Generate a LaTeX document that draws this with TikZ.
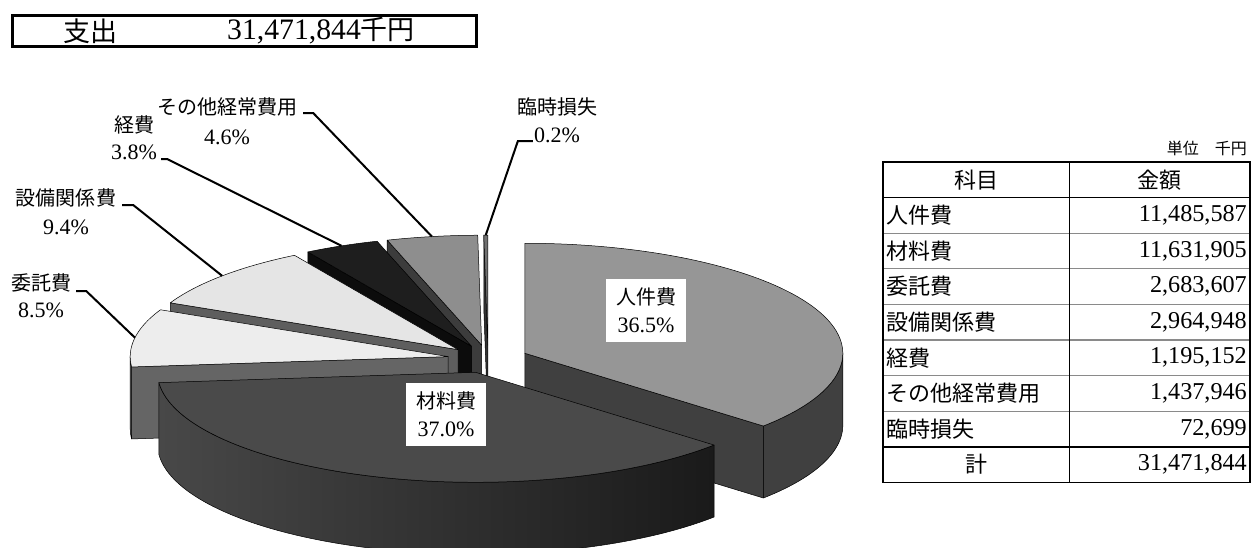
\documentclass[tikz,border=0pt]{standalone}
\usepackage{fontspec}
\setmainfont{Liberation Serif}[Scale=1.1]
\newfontfamily\jp{Noto Sans CJK JP}
\definecolor{topA}{HTML}{969696}\definecolor{sideA}{HTML}{404040}
\definecolor{topB}{HTML}{4A4A4A}\definecolor{wallBl}{HTML}{484848}\definecolor{wallBr}{HTML}{1A1A1A}
\definecolor{topC}{HTML}{EDEDED}\definecolor{sideC}{HTML}{656565}
\definecolor{topD}{HTML}{E5E5E5}\definecolor{sideD}{HTML}{5E5E5E}
\definecolor{topE}{HTML}{1E1E1E}\definecolor{sideE}{HTML}{0C0C0C}
\definecolor{topF}{HTML}{8E8E8E}\definecolor{sideF}{HTML}{3C3C3C}
\definecolor{topG}{HTML}{707070}\definecolor{sideG}{HTML}{333333}
\definecolor{rowline}{HTML}{8A8A8A}
\def\RA{318}\def\RB{110}\def\DP{72}\def\EX{0.127}\def\OX{488}\def\OY{359}
\newcommand\setc[2]{\pgfmathsetmacro\pmid{(#1+#2)/2}%
  \pgfmathsetmacro\pcx{\OX+\EX*\RA*sin(\pmid)}%
  \pgfmathsetmacro\pcy{\OY-\EX*\RB*cos(\pmid)}}
\newcommand\topface[3]{\filldraw[face,fill=#3] (\pcx,\pcy) -- plot[domain=#1:#2,samples=90,variable=\t] ({\pcx+\RA*sin(\t)},{\pcy-\RB*cos(\t)}) -- cycle;}
\newcommand\cutface[2]{\filldraw[face,fill=#2] (\pcx,\pcy) -- ({\pcx+\RA*sin(#1)},{\pcy-\RB*cos(#1)}) -- ({\pcx+\RA*sin(#1)},{\pcy-\RB*cos(#1)+\DP}) -- (\pcx,{\pcy+\DP}) -- cycle;}
\newcommand\wallface[3]{\path[face,#3] plot[domain=#1:#2,samples=70,variable=\t] ({\pcx+\RA*sin(\t)},{\pcy-\RB*cos(\t)}) -- plot[domain=#2:#1,samples=70,variable=\t] ({\pcx+\RA*sin(\t)},{\pcy-\RB*cos(\t)+\DP}) -- cycle;}
\newcommand\midpt[1]{\coordinate (#1) at ({\pcx+\RA*sin(\pmid)},{\pcy-\RB*cos(\pmid)});}
\begin{document}
\begin{tikzpicture}[x=1pt,y=-1pt,
  face/.style={draw=black,line width=0.5pt,line join=round},
  lbl/.style={inner sep=0pt,font=\fontsize{20}{24}\selectfont},
  lead/.style={draw=black,line width=2pt},
  valbox/.style={fill=white,inner sep=0pt,minimum width=80pt,minimum height=63pt,align=center,font=\fontsize{20}{28}\selectfont},
  cell/.style={inner sep=0pt,font=\fontsize{22}{24}\selectfont}]
\useasboundingbox (0,0) rectangle (1252,547);
\fill[white] (0,0) rectangle (1252,547);
% ---------- pie ----------
\begin{scope}
\clip (0,0) rectangle (1252,547);
% 臨時損失
\setc{359.28}{360}
\cutface{359.28}{sideG}
\topface{359.28}{360}{topG}
\midpt{p7}
% その他経常費用
\setc{342.72}{359.28}
\cutface{342.72}{sideF}
\topface{342.72}{359.28}{topF}
\midpt{p6}
% 経費
\setc{329.04}{342.72}
\cutface{329.04}{sideE}
\topface{329.04}{342.72}{topE}
\midpt{p5}
% 設備関係費
\setc{295.2}{329.04}
\cutface{295.2}{sideD}
\topface{295.2}{329.04}{topD}
\midpt{p4}
% 委託費
\setc{264.6}{295.2}
\cutface{264.6}{sideC}
\wallface{264.6}{270}{fill=sideC}
\topface{264.6}{295.2}{topC}
\midpt{p3}
% 人件費
\setc{0}{131.4}
\wallface{90}{131.4}{fill=sideA}
\cutface{131.4}{sideA}
\topface{0}{131.4}{topA}
% 材料費
\setc{131.4}{264.6}
\wallface{131.4}{264.6}{left color=wallBl,right color=wallBr}
\topface{131.4}{264.6}{topB}
\end{scope}
% ---------- labels in pie ----------
\node[valbox] (v1) at (646,310) {{\jp 人件費}\\36.5\%};
\node[valbox] (v2) at (446,414.5) {{\jp 材料費}\\37.0\%};
% ---------- outside labels ----------
\node[lbl] (l6a) at (227,107) {\jp その他経常費用};
\node[lbl] (l6b) at (227,137) {4.6\%};
\node[lbl] (l5a) at (134,125) {\jp 経費};
\node[lbl] (l5b) at (134,152) {3.8\%};
\node[lbl] (l4a) at (66,198) {\jp 設備関係費};
\node[lbl] (l4b) at (66,227) {9.4\%};
\node[lbl] (l3a) at (41,283) {\jp 委託費};
\node[lbl] (l3b) at (41,310) {8.5\%};
\node[lbl] (l7a) at (557,107) {\jp 臨時損失};
\node[lbl] (l7b) at (557,135) {0.2\%};
\draw[lead] ([shift={(6,6)}]l6a.east) -- ++(10,0) -- (p6);
\draw[lead] ([shift={(4,7)}]l5b.east) -- ++(6,0) -- (p5);
\draw[lead] ([shift={(6,7)}]l4a.east) -- ++(11,0) -- (p4);
\draw[lead] ([shift={(5,8)}]l3a.east) -- ++(10,0) -- (p3);
\draw[lead] ([shift={(-1,6)}]l7b.west) -- ++(-15,0) -- (p7);
% ---------- title ----------
\node[draw=black,line width=3pt,minimum width=464pt,minimum height=31pt,inner sep=0pt] (ttl) at (244.5,31) {};
\node[inner sep=0pt,font=\fontsize{27}{30}\selectfont] (t1) at (90,31) {\jp 支出};
\node[inner sep=0pt,anchor=west,font=\fontsize{27}{30}\selectfont] (t2) at (227,31) {31,471,844{\jp 千円}};
% ---------- table ----------
\node[inner sep=0pt,anchor=east,font=\fontsize{16}{18}\selectfont] (unit) at (1247,148) {\jp 単位　千円};
\draw[rowline,line width=1.2pt] (883,233.2) -- (1250,233.2) (883,268.8) -- (1250,268.8) (883,304.4) -- (1250,304.4) (883,340) -- (1250,340) (883,375.6) -- (1250,375.6) (883,411.2) -- (1250,411.2);
\draw[line width=1pt] (883,197.6) -- (1250,197.6);
\draw[line width=2.2pt] (883,446.8) -- (1250,446.8);
\draw[line width=1pt] (1069,162) -- (1069,482.4);
\draw[line width=1.5pt] (883,162) rectangle (1250,482.4);
\node[cell] (h1) at (976,179.8) {\jp 科目};
\node[cell] (h2) at (1159.5,179.8) {\jp 金額};
\node[cell,anchor=west] (k1) at (886,215.4) {\jp 人件費};
\node[cell,anchor=east] (m1) at (1247,215.4) {11,485,587};
\node[cell,anchor=west] (k2) at (886,251) {\jp 材料費};
\node[cell,anchor=east] (m2) at (1247,251) {11,631,905};
\node[cell,anchor=west] (k3) at (886,286.6) {\jp 委託費};
\node[cell,anchor=east] (m3) at (1247,286.6) {2,683,607};
\node[cell,anchor=west] (k4) at (886,322.2) {\jp 設備関係費};
\node[cell,anchor=east] (m4) at (1247,322.2) {2,964,948};
\node[cell,anchor=west] (k5) at (886,357.8) {\jp 経費};
\node[cell,anchor=east] (m5) at (1247,357.8) {1,195,152};
\node[cell,anchor=west] (k6) at (886,393.4) {\jp その他経常費用};
\node[cell,anchor=east] (m6) at (1247,393.4) {1,437,946};
\node[cell,anchor=west] (k7) at (886,429) {\jp 臨時損失};
\node[cell,anchor=east] (m7) at (1247,429) {72,699};
\node[cell] (k8) at (976,464.6) {\jp 計};
\node[cell,anchor=east] (m8) at (1247,464.6) {31,471,844};
\end{tikzpicture}
\end{document}
